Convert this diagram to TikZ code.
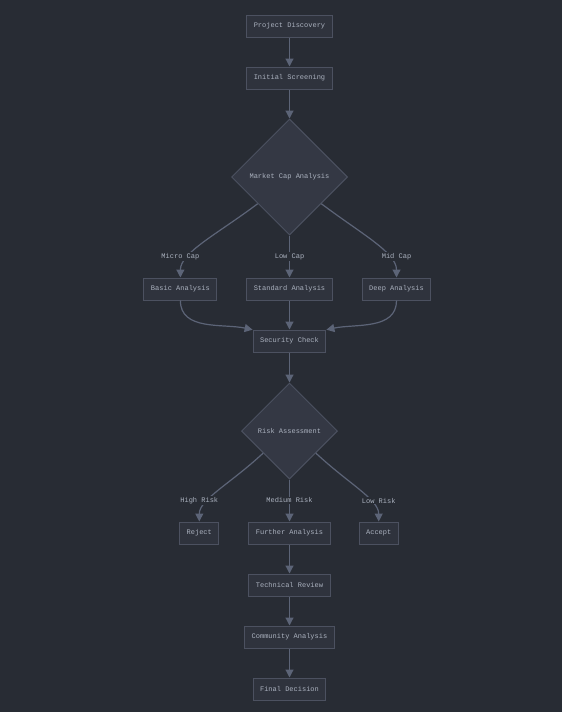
\documentclass[tikz,border=0pt]{standalone}
\usepackage{fontspec}
\setmonofont{Liberation Mono}
\usepackage{tikz}
\usetikzlibrary{shapes.geometric, arrows.meta, positioning, calc}
\definecolor{bgdark}{HTML}{282C34}
\definecolor{boxfill}{HTML}{2F333D}
\definecolor{diafill}{HTML}{343844}
\definecolor{boxline}{HTML}{4C5160}
\definecolor{edgeline}{HTML}{5C6477}
\definecolor{txt}{HTML}{ABB2BF}
\tikzstyle{stepbox} = [rectangle, draw=boxline, fill=boxfill, line width=1pt, text=txt, minimum height=22pt, inner xsep=7pt, font=\ttfamily\fontsize{7}{8}\selectfont]
\tikzstyle{decision} = [diamond, aspect=1, draw=boxline, fill=diafill, line width=1pt, text=txt, inner sep=1pt, font=\ttfamily\fontsize{7}{8}\selectfont]
\tikzstyle{edgelabel} = [fill=bgdark, text=txt, inner sep=1pt, font=\ttfamily\fontsize{7}{8}\selectfont]
\tikzstyle{arrow} = [line width=1.2pt, draw=edgeline, -{Triangle[length=8pt,width=8pt]}]

\begin{document}
\begin{tikzpicture}[x=1pt, y=1pt, node distance=29pt]
		\fill[bgdark] (0,0) rectangle (562,-712);
		\useasboundingbox (0,0) rectangle (562,-712);
		
		\node (disc) [stepbox] at (289.5,-26) {Project Discovery};
		\node (screen) [stepbox, below=of disc] {Initial Screening};
		\node (mcap) [decision, minimum size=116pt, below=of screen] {Market Cap Analysis};
		\node (std) [stepbox, below=42pt of mcap] {Standard Analysis};
		\node (basic) [stepbox, left=of std] {Basic Analysis};
		\node (deep) [stepbox, right=of std] {Deep Analysis};
		\node (sec) [stepbox, below=of std] {Security Check};
		\node (risk) [decision, minimum size=96pt, below=30pt of sec] {Risk Assessment};
		\node (further) [stepbox, below=42pt of risk] {Further Analysis};
		\node (reject) [stepbox, left=of further] {Reject};
		\node (accept) [stepbox, right=28pt of further] {Accept};
		\node (tech) [stepbox, below=of further] {Technical Review};
		\node (comm) [stepbox, below=of tech] {Community Analysis};
		\node (final) [stepbox, below=of comm] {Final Decision};
		
		\draw[arrow] (disc) -- (screen);
		\draw[arrow] (screen) -- (mcap);
		\draw[arrow] (mcap.-140) .. controls +(-143:50) and +(90:25) .. (basic.north);
		\draw[arrow] (mcap) -- (std);
		\draw[arrow] (mcap.-40) .. controls +(-37:50) and +(90:25) .. (deep.north);
		\draw[arrow] (basic) to[out=-90, in=168] (sec.163);
		\draw[arrow] (std) -- (sec);
		\draw[arrow] (deep) to[out=-90, in=12] (sec.17);
		\draw[arrow] (sec) -- (risk);
		\draw[arrow] (risk.-140) .. controls +(-137:45) and +(90:22) .. (reject.north);
		\draw[arrow] (risk) -- (further);
		\draw[arrow] (risk.-40) .. controls +(-43:45) and +(90:22) .. (accept.north);
		\draw[arrow] (further) -- (tech);
		\draw[arrow] (tech) -- (comm);
		\draw[arrow] (comm) -- (final);
		
		% edge labels
		\node (lmicro) [edgelabel] at ($(basic.north)+(0,21)$) {Micro Cap};
		\node (llow) [edgelabel] at ($(std.north)+(0,21)$) {Low Cap};
		\node (lmid) [edgelabel] at ($(deep.north)+(0,21)$) {Mid Cap};
		\node (lhigh) [edgelabel] at ($(reject.north)+(0,21)$) {High Risk};
		\node (lmed) [edgelabel] at ($(further.north)+(0,21)$) {Medium Risk};
		\node (llowr) [edgelabel] at ($(accept.north)+(0,21)$) {Low Risk};
	\end{tikzpicture}
\end{document}
